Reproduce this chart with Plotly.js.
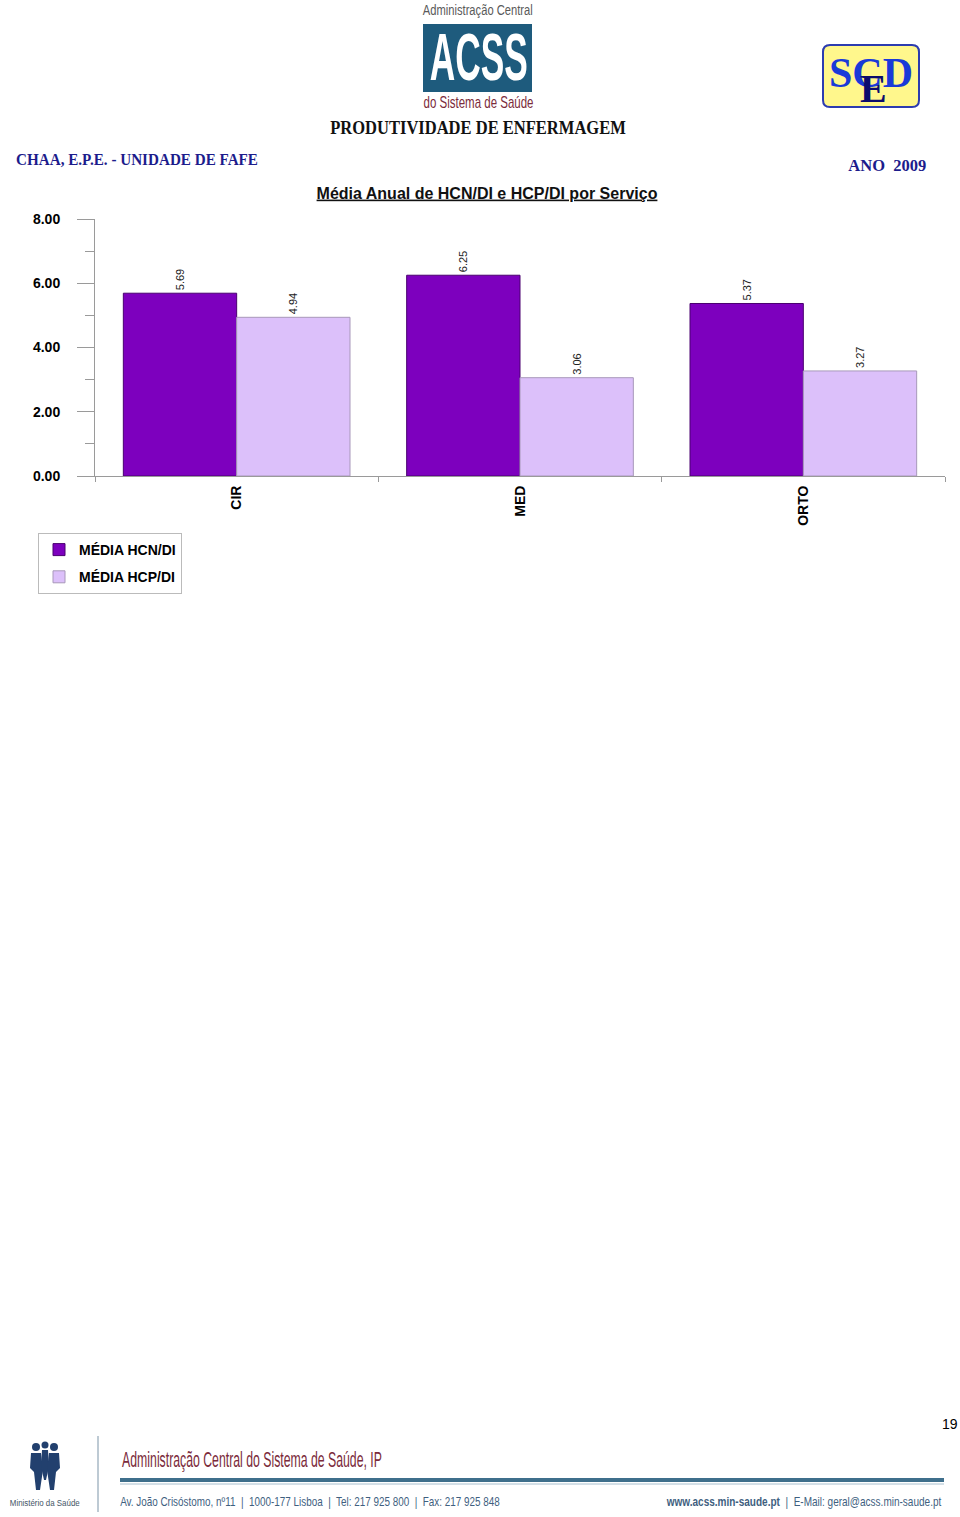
<!DOCTYPE html>
<html>
<head>
<meta charset="utf-8">
<script src="https://cdn.plot.ly/plotly-3.0.1.min.js"></script>
<style>
html,body{margin:0;padding:0;background:#fff;}
#chart{width:960px;height:1517px;}
</style>
</head>
<body>
<div id="chart"></div>
<script>
// ---- data ----
const categories = ['CIR', 'MED', 'ORTO'];
const seriesNames = ['MÉDIA HCN/DI', 'MÉDIA HCP/DI'];
const mediaHCN = [5.69, 6.25, 5.37];
const mediaHCP = [4.94, 3.06, 3.27];
const chartTitle = 'Média Anual de HCN/DI e HCP/DI por Serviço';

// ---- page geometry helpers (pixel -> paper) ----
const W = 960, H = 1517;
const PL = 95, PR = 945, PT = 219, PB = 476;
const X = px => (px - PL) / (PR - PL);
const Y = py => (PB - py) / (PB - PT);

const arial = 'Liberation Sans, Arial, sans-serif';
const serif = 'Liberation Serif, Times New Roman, serif';

const traces = [
  {
    type: 'bar', name: seriesNames[0], x: categories, y: mediaHCN, legendgroup: 'a',
    marker: {color: '#7d00be', line: {color: '#4a0070', width: 1}},
    text: mediaHCN.map(v => v.toFixed(2)), textposition: 'outside', textangle: -90,
    textfont: {family: arial, size: 11, color: '#222'}, cliponaxis: false, constraintext: 'none',
    hoverinfo: 'skip'
  },
  {
    type: 'bar', name: seriesNames[1], x: categories, y: mediaHCP, legendgroup: 'b',
    marker: {color: '#dcc0fa', line: {color: '#a898ba', width: 1}},
    text: mediaHCP.map(v => v.toFixed(2)), textposition: 'outside', textangle: -90,
    textfont: {family: arial, size: 11, color: '#222'}, cliponaxis: false, constraintext: 'none',
    hoverinfo: 'skip'
  }
];

const annotations = [];
const condense = [];   // {index, width, anchor} : horizontally compress text to a target pixel width
function ann(text, px, py, opts, targetWidth) {
  const a = Object.assign({
    text: text, xref: 'paper', yref: 'paper', x: X(px), y: Y(py),
    showarrow: false, xanchor: 'center', yanchor: 'middle'
  }, opts);
  annotations.push(a);
  if (targetWidth) condense.push({index: annotations.length - 1, width: targetWidth, anchor: a.xanchor});
}

// ACSS logo texts
ann('Administração Central', 478, 9, {font: {family: arial, size: 15, color: '#5a5a5a'}}, 110);
ann('ACSS', 478, 57, {font: {family: arial, size: 66, color: '#ffffff', weight: 'bold'}}, 98);
ann('do Sistema de Saúde', 478, 102, {font: {family: arial, size: 16, color: '#7b2b3b'}}, 110);
// header
ann('PRODUTIVIDADE DE ENFERMAGEM', 478, 128, {font: {family: serif, size: 18, color: '#111', weight: 'bold'}}, 296);
ann('CHAA, E.P.E. - UNIDADE DE FAFE', 14, 159, {xanchor: 'left', font: {family: serif, size: 17, color: '#1c1c8c', weight: 'bold'}}, 242);
ann('ANO  2009', 928, 165, {xanchor: 'right', font: {family: serif, size: 17, color: '#1c1c8c', weight: 'bold'}}, 78);
// SED logo letters
ann('SCD', 871, 73, {font: {family: serif, size: 42, color: '#1a3ad8', weight: 'bold'}}, 84);
ann('E', 873, 88, {font: {family: serif, size: 40, color: '#0c0c6c', weight: 'bold'}});
// footer
ann('19', 950, 1424, {font: {family: arial, size: 14, color: '#000'}});
ann('Ministério da Saúde', 45, 1503, {font: {family: arial, size: 9, color: '#445566'}}, 70);
ann('Administração Central do Sistema de Saúde, IP', 120, 1459, {xanchor: 'left', font: {family: arial, size: 22, color: '#7b2b3b'}}, 260);
ann('Av. João Crisóstomo, nº11  |  1000-177 Lisboa  |  Tel: 217 925 800  |  Fax: 217 925 848', 118, 1501,
    {xanchor: 'left', font: {family: arial, size: 13, color: '#3f5f7f'}}, 380);
ann('<b>www.acss.min-saude.pt</b>  |  E-Mail: geral@acss.min-saude.pt', 944, 1501,
    {xanchor: 'right', font: {family: arial, size: 13, color: '#3f5f7f'}}, 276);

function rect(x0, y0, x1, y1, opts) {
  return Object.assign({type: 'rect', xref: 'paper', yref: 'paper', x0: X(x0), x1: X(x1), y0: Y(y0), y1: Y(y1)}, opts);
}
function line(x0, y0, x1, y1, color, width) {
  return {type: 'line', xref: 'paper', yref: 'paper', x0: X(x0), x1: X(x1), y0: Y(y0), y1: Y(y1),
          line: {color: color, width: width}};
}
function circle(cx, cy, r, color) {
  return {type: 'circle', xref: 'paper', yref: 'paper', x0: X(cx - r), x1: X(cx + r), y0: Y(cy + r), y1: Y(cy - r),
          fillcolor: color, line: {width: 0}};
}
function roundRect(x0, y0, x1, y1, r) {
  const p = (x, y) => X(x) + ',' + Y(y);
  return 'M' + p(x0 + r, y0) + ' L' + p(x1 - r, y0) + ' Q' + p(x1, y0) + ' ' + p(x1, y0 + r) +
         ' L' + p(x1, y1 - r) + ' Q' + p(x1, y1) + ' ' + p(x1 - r, y1) +
         ' L' + p(x0 + r, y1) + ' Q' + p(x0, y1) + ' ' + p(x0, y1 - r) +
         ' L' + p(x0, y0 + r) + ' Q' + p(x0, y0) + ' ' + p(x0 + r, y0) + ' Z';
}
function poly(pts, color) {
  return {type: 'path', xref: 'paper', yref: 'paper',
          path: 'M' + pts.map(q => X(q[0]) + ',' + Y(q[1])).join(' L') + ' Z',
          fillcolor: color, line: {width: 0}};
}

const navy = '#22406e';
const shapes = [
  // ACSS blue box
  rect(423, 24, 532, 92, {fillcolor: '#1e5b7d', line: {width: 0}, layer: 'below'}),
  // SED logo box
  {type: 'path', xref: 'paper', yref: 'paper', path: roundRect(823, 45, 919, 107, 7),
   fillcolor: '#fff78c', line: {color: '#2c3cb0', width: 2}, layer: 'below'},
  // footer lines
  line(98, 1436, 98, 1512, '#7d95a8', 1),
  line(120, 1480, 944, 1480, '#3f6f8c', 4),
  line(120, 1484, 944, 1484, '#a9c0cf', 1),
  // emblem (simplified figures)
  circle(36, 1447, 4, navy),
  circle(45, 1445, 3.5, navy),
  circle(54, 1447, 4, navy),
  poly([[31, 1453], [41, 1453], [43, 1470], [40, 1490], [36, 1490], [34, 1472], [30, 1468]], navy),
  poly([[42, 1450], [48, 1450], [49, 1466], [46, 1480], [44, 1480], [41, 1466]], navy),
  poly([[49, 1453], [59, 1453], [60, 1468], [56, 1472], [54, 1490], [50, 1490], [47, 1470]], navy)
];

const layout = {
  width: W, height: H,
  margin: {l: PL, r: W - PR, t: PT, b: H - PB, pad: 0},
  paper_bgcolor: '#ffffff', plot_bgcolor: '#ffffff',
  font: {family: arial, color: '#000'},
  title: {
    text: '<u>' + chartTitle + '</u>',
    font: {family: arial, size: 16, color: '#111', weight: 'bold'},
    xref: 'paper', x: X(487), xanchor: 'center',
    yref: 'container', y: 1 - 193 / H, yanchor: 'middle'
  },
  barmode: 'group', bargap: 0.2, bargroupgap: 0,
  showlegend: true,
  legend: {
    x: X(38), y: Y(533), xanchor: 'left', yanchor: 'top',
    bordercolor: '#bbbbbb', borderwidth: 1, bgcolor: '#ffffff',
    font: {family: arial, size: 14, color: '#000', weight: 'bold'},
    traceorder: 'grouped', tracegroupgap: 6, itemclick: false
  },
  xaxis: {
    type: 'category', showgrid: false, zeroline: false,
    showline: true, linecolor: '#9a9a9a', linewidth: 1,
    ticks: 'outside', tickson: 'boundaries', ticklen: 5, tickcolor: '#9a9a9a',
    tickangle: -90, tickfont: {family: arial, size: 14, color: '#000', weight: 'bold'},
    ticklabelstandoff: 3
  },
  yaxis: {
    range: [0, 8], dtick: 2, tickformat: '.2f', showgrid: false, zeroline: false,
    showline: true, linecolor: '#9a9a9a', linewidth: 1,
    ticks: 'outside', ticklen: 17, tickcolor: '#9a9a9a',
    tickfont: {family: arial, size: 14, color: '#000', weight: 'bold'},
    ticklabelstandoff: 14,
    minor: {dtick: 1, ticks: 'outside', ticklen: 9, tickcolor: '#9a9a9a', showgrid: false}
  },
  annotations: annotations,
  shapes: shapes
};

Plotly.newPlot('chart', traces, layout, {staticPlot: true, displayModeBar: false}).then(gd => {
  condense.forEach(c => {
    const t = gd.querySelector('.annotation[data-index="' + c.index + '"] text.annotation-text');
    if (!t) return;
    const b = t.getBBox();
    if (!b.width) return;
    const sx = c.width / b.width;
    const ax = c.anchor === 'left' ? b.x : (c.anchor === 'right' ? b.x + b.width : b.x + b.width / 2);
    t.setAttribute('transform', 'translate(' + ax + ',0) scale(' + sx + ',1) translate(' + (-ax) + ',0)');
  });
});
</script>
</body>
</html>
